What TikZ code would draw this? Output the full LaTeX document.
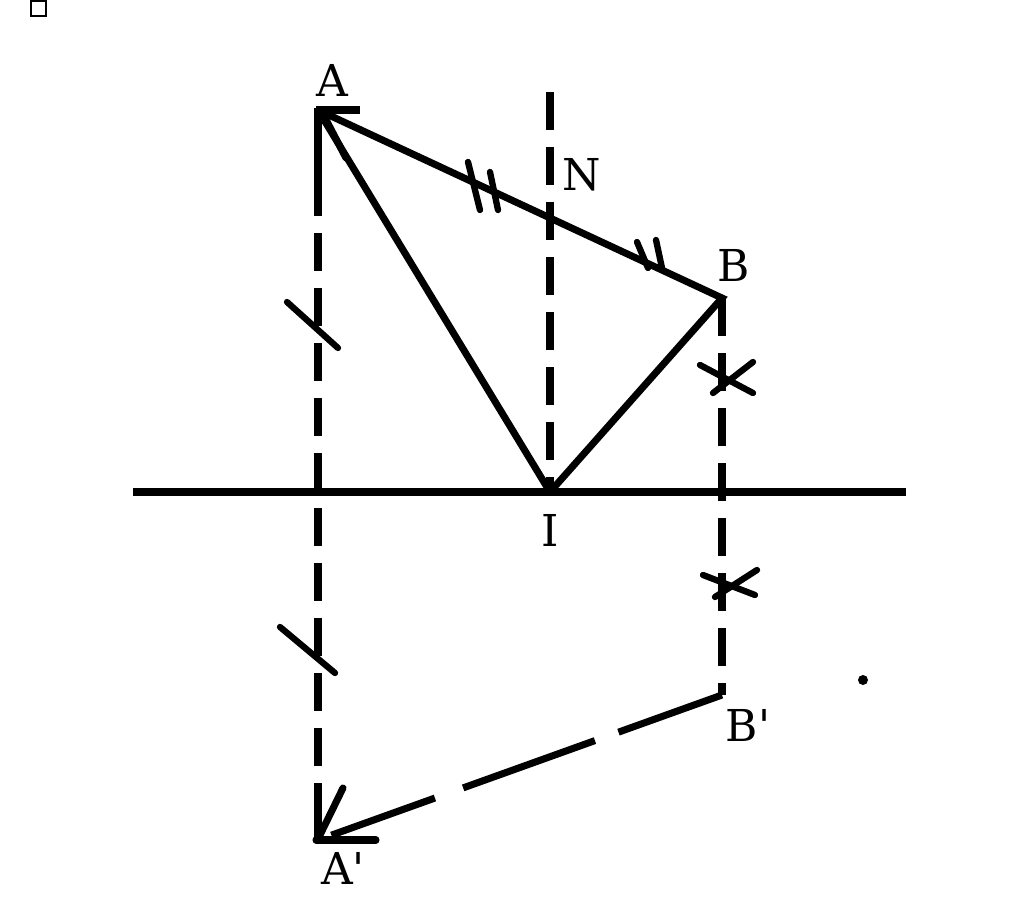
\documentclass[tikz,border=0pt]{standalone}
\usepackage{fontspec}
\setmainfont{DejaVu Serif}
\begin{document}
\begin{tikzpicture}[x=0.2mm, y=-0.2mm, line width=4pt,
    longdash/.style={dash pattern=on 7.6mm off 3.4mm},
    tickmark/.style={line width=3.6pt, line cap=round},
    wing/.style={line width=4pt, line cap=round},
    lbl/.style={font=\fontsize{25}{25}\selectfont, inner sep=0pt}]
  \useasboundingbox (0,0) rectangle (1024,912);
  % points
  \coordinate (A) at (318,110);
  \coordinate (B) at (722,298);
  \coordinate (I) at (550,492);
  \coordinate (Bp) at (722,695);
  \coordinate (Ap) at (318,840);
  \coordinate (Ntop) at (550,92);
  \coordinate (left) at (133,492);
  \coordinate (right) at (906,492);
  % mirror and normal
  \draw (left) -- (right);
  \draw[longdash] (Ntop) -- (I);
  % rays
  \draw (I) -- (A);
  \draw (A) -- (B) -- (I);
  \draw (A) ++(-2,0) -- ++(44,0);
  \draw (A) ++(0,-2) -- ++(0,70);
  \draw[wing] (A) ++(4,2) -- ++(24,46);
  % construction of the image
  \draw[longdash] (A) ++(0,68) -- (Ap);
  \draw[longdash] (B) -- (Bp);
  \draw[dash pattern=on 22mm off 5mm on 28mm off 6mm] (Bp) -- (Ap);
  \draw (Ap) ++(0,2) -- ++(0,-49);
  \draw[wing] (Ap) ++(-2,0) -- ++(60,0);
  \draw[wing] (Ap) ++(2,-5) -- (343,788);
  % equal lengths
  \draw[tickmark] (287,302) -- (338,348);
  \draw[tickmark] (280,627) -- (335,673);
  \draw[tickmark] (468,162) -- (480,210);
  \draw[tickmark] (490,172) -- (498,210);
  \draw[tickmark] (637,242) -- (648,268);
  \draw[tickmark] (656,240) -- (662,268);
  \draw[tickmark] (700,365) -- (753,393);
  \draw[tickmark] (753,362) -- (713,393);
  \draw[tickmark] (703,575) -- (755,595);
  \draw[tickmark] (757,570) -- (715,597);
  % labels
  \node[lbl] (lA) at (332,80) {A};
  \node[lbl] (lN) at (582,175) {N};
  \node[lbl] (lB) at (734,265) {B};
  \node[lbl] (lI) at (550,530) {I};
  \node[lbl] (lBp) at (748,725) {B\textquotesingle};
  \node[lbl] (lAp) at (343,868) {A\textquotesingle};
  % stray marks
  \draw[line width=1pt] (31,1) rectangle (46,16);
  \fill (863,680) circle (5);
\end{tikzpicture}
\end{document}
